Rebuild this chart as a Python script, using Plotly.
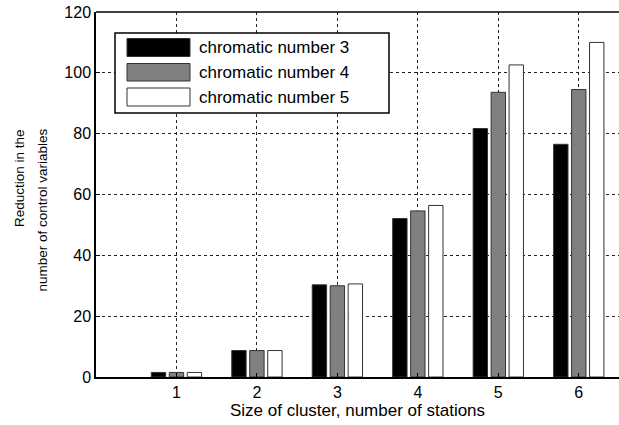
import plotly.graph_objects as go

clusters = [1, 2, 3, 4, 5, 6]
tick_labels = ["1", "2", "3", "4", "5", "6"]
series_names = ["chromatic number 3", "chromatic number 4", "chromatic number 5"]
chromatic3 = [1.5, 8.7, 30.3, 52.1, 81.7, 76.5]
chromatic4 = [1.5, 8.7, 30.0, 54.6, 93.6, 94.5]
chromatic5 = [1.5, 8.7, 30.6, 56.4, 102.6, 110.0]
y_ticks = [0, 20, 40, 60, 80, 100, 120]

fills = ["#000000", "#808080", "#ffffff"]
FONT = "Liberation Sans, Arial, sans-serif"

fig = go.Figure()
for name, vals, col in zip(series_names, [chromatic3, chromatic4, chromatic5], fills):
    fig.add_trace(go.Bar(
        x=clusters, y=vals, name=name,
        marker=dict(color=col, line=dict(color="#333333", width=1)),
        showlegend=False,
    ))

fig.update_layout(
    width=619, height=425,
    margin=dict(l=96, r=0, t=12, b=48),
    paper_bgcolor="white", plot_bgcolor="white",
    barmode="group", bargap=0.33, bargroupgap=0.2,
    font=dict(family=FONT, color="black", size=16),
    xaxis=dict(
        range=[0, 6.5], tickmode="array", tickvals=clusters, ticktext=tick_labels,
        showgrid=True, gridcolor="#222222", griddash="dot", gridwidth=1,
        showline=True, linecolor="black", linewidth=1.5, mirror=False,
        ticks="inside", ticklen=4, tickcolor="black",
        zeroline=False,
        title=dict(text="Size of cluster, number of stations", font=dict(size=17), standoff=0),
        tickfont=dict(size=16),
    ),
    yaxis=dict(
        range=[0, 120], tickmode="array", tickvals=y_ticks,
        showgrid=True, gridcolor="#222222", griddash="dot", gridwidth=1,
        showline=True, linecolor="black", linewidth=1.5,
        ticks="inside", ticklen=4, tickcolor="black",
        zeroline=False, tickfont=dict(size=16),
    ),
)

# top border
fig.add_shape(type="line", xref="paper", yref="paper", x0=0, x1=1, y0=1, y1=1,
              line=dict(color="black", width=1.5))

def px(x):
    return (x - 96) / 523

def py(y):
    return (377 - y) / 365

# y title as two lines
fig.add_annotation(text="Reduction in the", xref="paper", yref="paper",
                   x=px(19), y=py(127), xanchor="center", yanchor="top",
                   textangle=-90, showarrow=False, font=dict(size=13.5))
fig.add_annotation(text="number of control variables", xref="paper", yref="paper",
                   x=px(42), y=py(127), xanchor="center", yanchor="top",
                   textangle=-90, showarrow=False, font=dict(size=13.5))

# custom legend
fig.add_shape(type="rect", xref="paper", yref="paper",
              x0=px(115), x1=px(389), y0=py(113), y1=py(33),
              line=dict(color="black", width=1.5), fillcolor="white", layer="above")
rows = [(38.5, 56.5), (63.5, 81), (88, 106)]
for (t, b), name, col in zip(rows, series_names, fills):
    fig.add_shape(type="rect", xref="paper", yref="paper",
                  x0=px(127), x1=px(190), y0=py(b), y1=py(t),
                  line=dict(color="#333333", width=1), fillcolor=col, layer="above")
    fig.add_annotation(text=name, xref="paper", yref="paper",
                       x=px(197), y=py((t + b) / 2), xanchor="left", yanchor="middle",
                       showarrow=False, font=dict(size=17))

fig.write_html("out.html", config={"displayModeBar": False},
               post_script="document.body.style.margin='0';document.body.style.overflow='hidden';")
